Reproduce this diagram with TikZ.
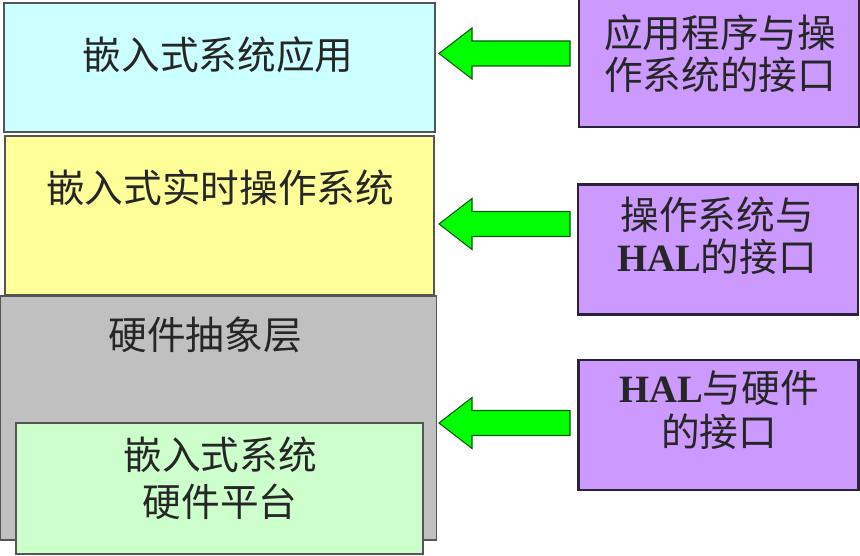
\documentclass[tikz,border=0pt]{standalone}
\usepackage{fontspec}
\setmainfont{Liberation Serif}
\newfontfamily\cjk{Noto Sans CJK SC}
\definecolor{cyanfill}{HTML}{CCFFFF}
\definecolor{yellowfill}{HTML}{FFFF99}
\definecolor{grayfill}{HTML}{C0C0C0}
\definecolor{greenfill}{HTML}{CCFFCC}
\definecolor{purplefill}{HTML}{CC99FF}
\definecolor{arrowgreen}{HTML}{00FF00}
\definecolor{arrowedge}{HTML}{0A5A0A}
\definecolor{layeredge}{HTML}{555555}
\definecolor{purpleedge}{HTML}{2A2238}
\tikzset{
  layer/.style={draw=layeredge, line width=1.1pt, inner sep=0pt},
  iface/.style={draw=purpleedge, fill=purplefill, line width=1.6pt, inner sep=0pt,
    minimum width=210pt, minimum height=97.5pt},
  txt/.style={font=\fontsize{29}{31.5}\selectfont\cjk, align=center, inner sep=0pt, text=black!85},
  bigarrow/.style={draw=arrowedge, fill=arrowgreen, line width=0.8pt, line join=miter},
  pics/blockarrow/.style={code={
    \path[bigarrow] (0,0) -- (33,-25.5) -- (33,-12.5) -- (131,-12.5) -- (131,12.5)
      -- (33,12.5) -- (33,25.5) -- cycle;}},
}
\newcommand{\hal}{{\fontspec{Liberation Serif}\bfseries HAL}}
\begin{document}
\begin{tikzpicture}[x=0.75pt,y=-0.75pt]
\useasboundingbox (0,0) rectangle (860,556);
% layers
\node[layer, fill=grayfill, minimum width=327pt, minimum height=183pt] (hal) at (218.5,418) {};
\node[layer, fill=yellowfill, minimum width=321.75pt, minimum height=119.25pt] (rtos) at (219.5,215.5) {};
\node[layer, fill=cyanfill, minimum width=323.25pt, minimum height=96.75pt] (app) at (219.5,67.5) {};
\node[layer, fill=greenfill, minimum width=305.25pt, minimum height=98.25pt] (hw) at (219.5,488.5) {};
% layer labels
\node[txt] (appt) at (218,55) {嵌入式系统应用};
\node[txt] (rtost) at (220,188) {嵌入式实时操作系统};
\node[txt] (halt) at (205,335) {硬件抽象层};
\node[txt, font=\fontsize{29}{35}\selectfont\cjk] (hwt) at (220,478) {嵌入式系统\\硬件平台};
% interface boxes
\node[iface] (ia) at (719,62) {};
\node[iface] (ib) at (718,249.5) {};
\node[iface] (ic) at (718.5,425) {};
\node[txt] (iat) at (720,54) {应用程序与操\\作系统的接口};
\node[txt] (ibt) at (717,236) {操作系统与\\\hal 的接口};
\node[txt, font=\fontsize{29}{33.5}\selectfont\cjk] (ict) at (719,410) {\hal 与硬件\\的接口};
% arrows (tips)
\coordinate (t1) at (439,53.5);
\coordinate (t2) at (439,224);
\coordinate (t3) at (439,423);
\pic at (t1) {blockarrow};
\pic at (t2) {blockarrow};
\pic at (t3) {blockarrow};
\end{tikzpicture}
\end{document}
